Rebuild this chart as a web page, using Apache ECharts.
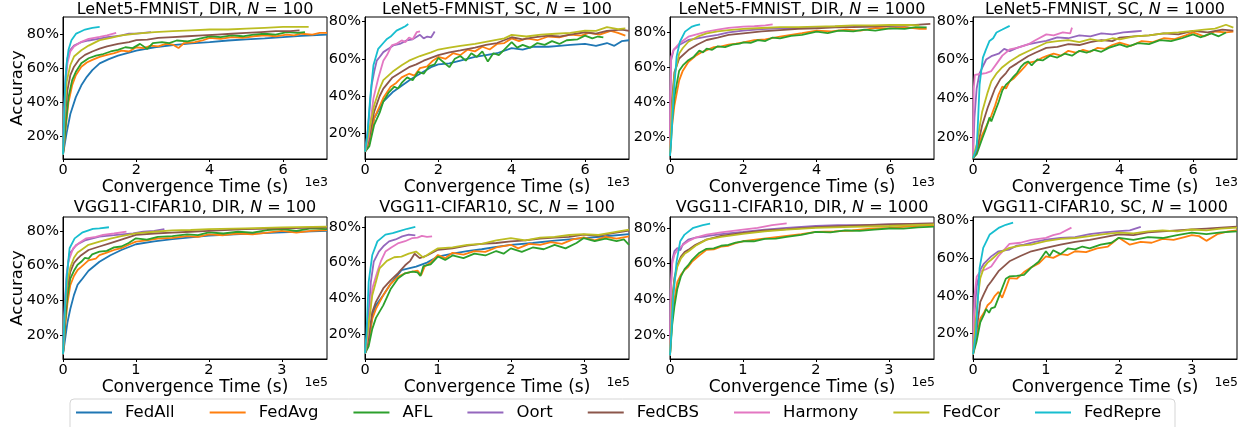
<!DOCTYPE html>
<html>
<head>
<meta charset="utf-8">
<script src="https://cdn.jsdelivr.net/npm/echarts@6/dist/echarts.min.js"></script>
<style>
html,body{margin:0;padding:0;background:#fff;}
#chart{width:1249px;height:427px;}
</style>
</head>
<body>
<div id="chart"></div>
<script>
// ---------- methods / colours ----------
const methods = ['FedAll','FedAvg','AFL','Oort','FedCBS','Harmony','FedCor','FedRepre'];
const colors  = ['#1f77b4','#ff7f0e','#2ca02c','#9467bd','#8c564b','#e377c2','#bcbd22','#17becf'];

// ---------- panel titles / axis ticks ----------
const panelModel = ['LeNet5-FMNIST','LeNet5-FMNIST','LeNet5-FMNIST','LeNet5-FMNIST','VGG11-CIFAR10','VGG11-CIFAR10','VGG11-CIFAR10','VGG11-CIFAR10'];
const panelSplit = ['DIR','SC','DIR','SC','DIR','SC','DIR','SC'];
const panelN     = ['100','100','1000','1000','100','100','1000','1000'];
const xTicksTop = [0,2,4,6];
const xTicksBottom = [0,1,2,3];
const yTicks = [20,40,60,80];
const xMaxTop = 7.2, xMaxBottom = 3.62;
const yMin = [6.4,6.1,7.3,8.5,6.2,5.9,7.0,6.6];
const yMax = [90.4,82.5,88.8,82.0,88.0,85.6,86.0,81.6];

// ---------- data: x in units of 1e3 s (top row) and 1e5 s (bottom row), y in % ----------
const lenet_dir_100 = {
  FedAll:[[0,9],[0.1,22],[0.2,33],[0.35,43],[0.5,50],[0.65,55],[0.8,59],[1,63],[1.25,65.5],[1.5,67.5],[2,70.5],[2.5,72.5],[3,73.8],[3.5,74.8],[4,75.5],[4.5,76.5],[5,77.2],[5.5,77.8],[6,78.5],[6.5,79.2],[7.2,80]],
  FedAvg:[[0,9],[0.08,26],[0.15,40],[0.25,50],[0.35,56],[0.5,61],[0.65,63.5],[0.8,65],[1,66.8],[1.2,68],[1.4,69],[1.6,70.5],[1.8,70],[2,72.5],[2.2,72],[2.4,73.5],[2.6,73],[2.8,74.5],[3,74],[3.15,72],[3.3,75],[3.6,75.5],[3.8,76.5],[4,78],[4.3,77.5],[4.6,78.5],[4.9,78],[5.2,79],[5.5,79.5],[5.8,79],[6.1,80],[6.3,79.5],[6.5,80.5],[6.8,80],[7.0,81],[7.2,81]],
  AFL:[[0,9],[0.08,28],[0.15,43],[0.25,53],[0.35,58],[0.5,63],[0.7,66],[0.9,67.5],[1.1,68.5],[1.3,70],[1.5,71],[1.7,72.5],[1.9,72],[2.1,74.5],[2.3,71.5],[2.45,75],[2.7,75.5],[2.9,75],[3.1,76.5],[3.4,76],[3.7,77.5],[4,79],[4.3,78.5],[4.6,79.5],[4.9,79],[5.2,80],[5.5,80.5],[5.8,80],[6.1,81.5],[6.4,81],[6.6,81.5]],
  Oort:[[0,9],[0.03,35],[0.07,55],[0.12,66],[0.2,71],[0.3,73.5],[0.5,75.5],[0.7,76.5],[1,77.6],[1.2,78.5],[1.4,79],[1.6,79.5],[1.8,80.5],[2,80.6],[2.2,81],[2.4,81.5]],
  FedCBS:[[0,9],[0.06,32],[0.12,47],[0.2,56],[0.3,61],[0.45,65.5],[0.6,68],[0.8,70],[1,71.7],[1.2,73],[1.5,74.5],[1.8,75.5],[2,76.7],[2.3,77],[2.6,78],[3,78.5],[3.4,79],[3.8,79.5],[4.2,80],[4.6,80.5],[5,81],[5.4,81.5],[5.8,82],[6.2,82],[6.45,82.5]],
  Harmony:[[0,9],[0.03,30],[0.07,50],[0.12,63],[0.2,70],[0.3,73],[0.5,75.7],[0.7,77.5],[1,78.6],[1.2,79.5],[1.45,81]],
  FedCor:[[0,9],[0.05,35],[0.1,52],[0.2,62],[0.3,67],[0.5,70.7],[0.7,73.5],[1,76.7],[1.3,78],[1.6,79.5],[2,80.6],[2.5,81.5],[3,82],[3.5,82.5],[4,83],[4.5,83],[5,83.5],[5.5,84],[6,84.5],[6.7,84.5]],
  FedRepre:[[0,9],[0.03,30],[0.06,50],[0.1,63],[0.15,71],[0.23,76.6],[0.36,80.6],[0.5,82],[0.6,83],[0.8,84],[1.0,84.5]]
};
const lenet_sc_100 = {
  FedAll:[[0,10],[0.1,13],[0.25,28],[0.5,37],[0.75,42],[1,45.5],[1.25,49],[1.5,52],[1.8,55.5],[2,57],[2.3,57.5],[2.6,59],[3,61],[3.3,62],[3.6,63],[4,65.8],[4.3,65],[4.6,66.5],[5,66.5],[5.3,67],[5.6,67.5],[6,68],[6.3,67],[6.6,68.5],[6.8,67],[7,69.5],[7.2,70]],
  FedAvg:[[0,10],[0.1,14],[0.25,28],[0.5,39],[0.7,45],[0.85,47],[1,50],[1.2,52],[1.35,51],[1.5,55],[1.7,56],[1.85,59],[2,61],[2.2,60],[2.4,63],[2.6,62],[2.8,65],[3,64],[3.2,66.5],[3.4,65],[3.6,68],[3.8,68.5],[4,71],[4.2,69.5],[4.4,71],[4.7,70],[5,72],[5.3,71.5],[5.6,73],[5.9,72.5],[6.1,74],[6.4,73],[6.7,75],[6.9,74],[7.1,72.5]],
  AFL:[[0,10],[0.12,13],[0.25,24.5],[0.4,31],[0.5,37],[0.65,42],[0.8,45],[0.9,44],[1,47],[1.15,50],[1.3,48.5],[1.45,53],[1.6,52],[1.75,56],[1.9,57],[2,60.5],[2.15,58],[2.3,55.5],[2.45,60],[2.6,61.5],[2.75,59],[2.9,63],[3.05,61],[3.2,64],[3.35,58.5],[3.5,63],[3.65,62],[3.8,65],[4,69],[4.15,66],[4.3,67.5],[4.5,66],[4.7,68.5],[4.9,67.5],[5.1,69.5],[5.3,68],[5.5,70],[5.8,70.5],[6,72.5],[6.2,71],[6.35,72],[6.5,71.5]],
  Oort:[[0,10],[0.08,22],[0.18,45.8],[0.25,53],[0.32,59],[0.4,61],[0.5,63.6],[0.65,65.5],[0.77,67.2],[0.95,68],[1.14,69.9],[1.3,70.5],[1.5,72.9],[1.6,71],[1.7,72],[1.8,71.5],[1.9,74.7]],
  FedCBS:[[0,10],[0.1,16],[0.25,31.6],[0.4,40],[0.5,44],[0.75,50],[1,53],[1.2,55.5],[1.4,57],[1.6,59],[1.8,60.5],[2,62],[2.3,63.5],[2.6,64.5],[3,66],[3.3,67.5],[3.6,68.5],[4,71.6],[4.3,70.5],[4.6,71.5],[5,72.5],[5.3,72],[5.6,73],[6,74.3],[6.3,73.5],[6.6,75],[7,75.7],[7.2,75]],
  Harmony:[[0,10],[0.1,18],[0.23,38.7],[0.36,49.4],[0.5,59],[0.6,62],[0.73,67.2],[0.85,68],[1.0,69.9],[1.1,69],[1.2,71.5],[1.3,70.5],[1.41,74.3],[1.5,74.8]],
  FedCor:[[0,10],[0.1,20],[0.25,35],[0.4,44],[0.5,48.5],[0.75,53],[1,56.5],[1.2,59],[1.5,61.5],[1.8,63.5],[2,65],[2.3,66],[2.6,67],[3,68],[3.4,69.5],[3.8,71],[4,72.9],[4.4,72],[4.8,73],[5.2,73.5],[5.6,74],[6,75.2],[6.3,75],[6.6,77],[6.9,76],[7.1,76.4]],
  FedRepre:[[0,10],[0.07,20],[0.14,38.7],[0.23,56.5],[0.36,65.4],[0.5,68.5],[0.6,70.7],[0.7,72],[0.86,75.2],[1.0,76.5],[1.1,77.5],[1.18,78.7]]
};
const lenet_dir_1000 = {
  FedAvg:[[0,9],[0.05,25],[0.12,38],[0.25,52.4],[0.35,58],[0.5,63],[0.7,66.5],[0.85,68.5],[1,69.8],[1.2,71.5],[1.4,72],[1.6,73],[1.8,73.5],[2,74.2],[2.3,75.5],[2.6,76],[3,77.5],[3.3,78.5],[3.6,79.5],[4,81],[4.4,80.5],[4.8,81.5],[5.2,81],[5.6,82.5],[6,82.3],[6.4,83],[6.8,82],[7,82]],
  AFL:[[0,9],[0.05,28],[0.12,43],[0.25,58],[0.35,61],[0.5,64],[0.65,66],[0.8,69.5],[0.9,68.5],[1,70.7],[1.15,70],[1.3,72],[1.5,71.5],[1.7,73],[1.9,73.5],[2,74.2],[2.2,74],[2.4,75.5],[2.6,75],[2.8,77],[3,76.5],[3.3,78],[3.6,78.5],[4,80.4],[4.3,79.5],[4.6,81],[5,80.5],[5.3,81.5],[5.6,81],[6,82.3],[6.4,82],[6.7,83],[7,82.9]],
  Oort:[[0,9],[0.01,40],[0.03,64],[0.1,70],[0.25,72.7],[0.5,75.6],[0.75,76.5],[1,77.5],[1.3,78.5],[1.6,80],[2,81],[2.5,81.8],[3,82.3],[3.5,82.5],[4,82.9],[4.5,83.2],[5,83.5],[5.5,83.5],[6,83.7],[6.5,84]],
  FedCBS:[[0,9],[0.05,40],[0.12,57],[0.25,65],[0.5,69.8],[0.75,73],[1,75.6],[1.3,77],[1.6,78.5],[2,79.4],[2.5,80.5],[3,81.3],[3.5,82],[4,82.3],[4.5,82.8],[5,83],[5.5,83.3],[6,83.7],[6.5,84],[7.1,84.8]],
  Harmony:[[0,9],[0.01,45],[0.03,66],[0.1,70],[0.25,73.6],[0.5,77.5],[0.75,79],[1,80.4],[1.3,81.5],[1.6,82.5],[2,83.3],[2.3,83.5],[2.6,84],[2.8,84.6]],
  FedCor:[[0,9],[0.05,35],[0.12,55],[0.25,67.8],[0.35,71],[0.5,74.6],[0.75,77.5],[1,79.4],[1.3,80.5],[1.6,81.3],[2,82],[2.5,82.5],[3,83],[3.5,83],[4,83.3],[4.5,83.5],[5,84],[5.5,84],[6,84.2],[6.5,84.2],[6.8,84]],
  FedRepre:[[0,9],[0.04,20],[0.09,40.8],[0.18,66],[0.27,74.6],[0.41,80.4],[0.6,83.3],[0.7,84],[0.82,84.6]]
};
const lenet_sc_1000 = {
  FedAvg:[[0,9],[0.1,12],[0.25,21],[0.4,27],[0.5,31],[0.6,36],[0.7,42],[0.8,46],[0.9,45],[1,48.7],[1.1,50],[1.2,52],[1.3,54],[1.4,56],[1.5,58.3],[1.7,59],[1.9,61],[2,61.7],[2.2,63],[2.4,62],[2.6,64.5],[2.8,63.5],[3,65],[3.2,64],[3.4,66],[3.6,65.5],[3.8,67.5],[4,68.7],[4.3,67],[4.6,69.5],[4.9,69],[5.2,71],[5.5,70.5],[5.8,72.5],[6,74],[6.3,72],[6.6,74.5],[6.9,74],[7.1,74.4]],
  AFL:[[0,9],[0.1,11],[0.25,19],[0.35,24],[0.45,30],[0.5,28],[0.6,33],[0.7,38],[0.8,44],[0.9,47],[1,48.7],[1.1,51],[1.2,53],[1.3,56],[1.4,58],[1.5,59],[1.6,57],[1.75,60],[1.9,59.5],[2.1,62],[2.3,61],[2.5,63],[2.7,62],[2.9,64.5],[3.1,63.5],[3.3,65],[3.5,64],[3.7,66],[4,67.8],[4.2,66.5],[4.5,68.5],[4.8,68],[5.1,70],[5.4,69.5],[5.7,71],[6,73],[6.2,71.5],[6.5,73.5],[6.7,72],[6.9,74]],
  Oort:[[0,9],[0.04,30],[0.1,45],[0.18,53],[0.36,60],[0.5,61.7],[0.7,63],[0.85,65.5],[1,64.3],[1.2,66],[1.5,67.8],[1.8,69],[2,69.6],[2.3,71.5],[2.6,71],[2.9,72.5],[3.2,72],[3.5,73.5],[3.8,73],[4.1,74],[4.4,74.5],[4.6,74.8]],
  FedCBS:[[0,9],[0.1,13],[0.25,26],[0.4,35],[0.5,40],[0.6,45],[0.75,50],[0.9,53],[1,55.6],[1.2,58],[1.5,61.7],[1.7,63.5],[2,66],[2.3,66.5],[2.6,68],[2.9,67.5],[3.2,69],[3.5,70],[3.8,69.5],[4,71.3],[4.4,72],[4.8,72.5],[5.2,73.5],[5.6,73],[6,74.8],[6.4,74],[6.8,75.5],[7.1,75]],
  Harmony:[[0,9],[0.02,45],[0.05,52],[0.2,52.5],[0.35,53],[0.5,54],[0.65,58],[0.8,62],[1,65.2],[1.2,66],[1.5,67.8],[1.7,70],[2,73],[2.2,72.5],[2.45,74],[2.65,73.5],[2.7,76.5]],
  FedCor:[[0,9],[0.1,16],[0.25,33],[0.4,43],[0.5,48.7],[0.65,53],[0.8,56],[1,59],[1.25,62],[1.5,64.3],[1.75,66.5],[2,68.7],[2.3,69.5],[2.6,70],[2.9,69],[3.2,70.5],[3.5,69.5],[3.8,71],[4,70.4],[4.4,72],[4.8,72.5],[5.2,73.5],[5.6,74],[6,74.8],[6.3,75.5],[6.6,76],[6.9,78],[7.1,76.5]],
  FedRepre:[[0,9],[0.1,14],[0.14,29.6],[0.18,47],[0.27,61],[0.35,65],[0.45,69.6],[0.55,71],[0.64,74],[0.8,75.5],[1.0,77.4]]
};
const vgg_dir_100 = {
  FedAll:[[0,9],[0.03,18],[0.06,27],[0.1,35],[0.15,43],[0.2,49],[0.25,51.6],[0.35,57],[0.5,62.2],[0.65,66],[0.8,69],[1,72.3],[1.25,74],[1.5,75.2],[1.75,76.3],[2,77.3],[2.5,78.3],[3,79.2],[3.62,80]],
  FedAvg:[[0,9],[0.03,25],[0.06,38],[0.1,48.7],[0.15,54],[0.2,57.5],[0.25,59.3],[0.35,63],[0.45,64],[0.5,66],[0.6,67.5],[0.7,69],[0.8,70],[0.9,72],[1,73.8],[1.15,74.5],[1.3,75.5],[1.5,76],[1.7,77],[1.85,76.5],[2,78],[2.2,77.5],[2.4,78.5],[2.6,78],[2.8,79],[3,80],[3.2,79],[3.4,80],[3.62,80.5]],
  AFL:[[0,9],[0.03,28],[0.06,42],[0.1,52.5],[0.15,57],[0.2,60.5],[0.25,62.2],[0.3,64.5],[0.35,64],[0.4,66.5],[0.5,68],[0.6,68.5],[0.7,70.5],[0.8,71],[0.9,73],[1,75.7],[1.15,75],[1.3,76.5],[1.5,77],[1.7,78],[1.85,77.5],[2,79.2],[2.2,78.5],[2.4,79.5],[2.6,79],[2.8,80.5],[3,81],[3.2,80],[3.4,81.5],[3.62,81]],
  Oort:[[0,9],[0.02,35],[0.05,55],[0.09,67],[0.13,69],[0.18,71.9],[0.3,74.5],[0.5,76.7],[0.7,77.5],[0.96,78.6],[1.1,79.5],[1.25,80],[1.39,81]],
  FedCBS:[[0,9],[0.03,32],[0.06,47],[0.1,56.4],[0.15,61.5],[0.2,64],[0.25,66],[0.35,69],[0.5,71],[0.65,73],[0.8,75],[1,77.7],[1.25,78.5],[1.5,79],[1.75,79.5],[2,80],[2.5,81],[3,81.5],[3.62,82]],
  Harmony:[[0,9],[0.02,30],[0.04,45],[0.07,62],[0.14,70],[0.22,73],[0.32,75.7],[0.45,76.5],[0.55,77.7],[0.7,78.5],[0.87,79.6]],
  FedCor:[[0,9],[0.03,36],[0.06,51],[0.1,59],[0.15,64.5],[0.2,67.5],[0.25,69],[0.35,72],[0.5,73.8],[0.65,75.5],[0.8,77],[1,78.6],[1.25,79.5],[1.5,80.3],[1.75,80.5],[2,81],[2.5,81.5],[3,82],[3.62,82.5]],
  FedRepre:[[0,9],[0.02,30],[0.05,52.5],[0.09,70],[0.16,75.7],[0.27,79.2],[0.41,81.2],[0.5,81.5],[0.63,82.1]]
};
const vgg_sc_100 = {
  FedAll:[[0,9],[0.05,15],[0.1,30],[0.15,36],[0.25,41.7],[0.35,48],[0.5,55.8],[0.7,57.7],[0.85,60],[1,63.4],[1.2,65],[1.4,66.5],[1.6,67.5],[1.8,68.8],[2,70],[2.3,71],[2.6,72.3],[3,73.8],[3.3,74.8],[3.62,76]],
  FedAvg:[[0,9],[0.05,16],[0.1,28.5],[0.15,34],[0.25,41.7],[0.35,48],[0.45,52],[0.55,54],[0.65,55],[0.72,55.5],[0.77,53],[0.82,58],[0.9,60],[1,64.3],[1.1,62.5],[1.2,65.5],[1.35,64.5],[1.5,66.5],[1.65,66],[1.8,68.5],[2,70],[2.1,68],[2.25,70.5],[2.4,70],[2.55,71.5],[2.7,70.5],[2.85,73],[3,74.2],[3.15,72.5],[3.3,74.5],[3.45,73.5],[3.62,74.7]],
  AFL:[[0,9],[0.05,13],[0.1,22.8],[0.15,29],[0.25,36],[0.35,45],[0.45,51],[0.55,54],[0.65,55],[0.72,54.5],[0.76,52.5],[0.8,58],[0.9,59],[1,63.4],[1.1,61.5],[1.2,64],[1.35,62.5],[1.5,65],[1.65,64],[1.8,66.5],[1.9,65],[2,68],[2.15,66],[2.3,68.5],[2.45,67.5],[2.6,70],[2.75,68],[2.9,71],[3,73.8],[3.15,72],[3.3,73.5],[3.45,72],[3.55,73],[3.62,70]],
  Oort:[[0,9],[0.03,20],[0.08,49],[0.12,60.5],[0.19,66.2],[0.26,69.5],[0.33,71.9],[0.42,73],[0.51,74.7],[0.6,75.7],[0.69,75.3]],
  FedCBS:[[0,9],[0.05,18],[0.1,32.3],[0.15,38],[0.25,45.5],[0.35,50],[0.45,54],[0.55,58.5],[0.62,61],[0.68,65],[0.75,62.5],[0.85,64],[1,67.2],[1.2,68],[1.4,69.5],[1.6,70.5],[1.8,71],[2,71.9],[2.2,72.5],[2.4,73.5],[2.6,74],[2.8,74.5],[3,75.7],[3.2,75],[3.4,76.5],[3.62,78]],
  Harmony:[[0,9],[0.04,20],[0.1,45.5],[0.17,55],[0.22,61],[0.28,66.2],[0.36,68.5],[0.46,71],[0.55,72],[0.65,73.8],[0.72,74],[0.78,75],[0.85,74.5],[0.92,74.7]],
  FedCor:[[0,9],[0.05,25],[0.1,41.7],[0.2,56.8],[0.3,61],[0.4,63],[0.5,63.4],[0.6,65],[0.7,66.2],[0.8,62.8],[0.9,65.5],[1,68],[1.2,68.5],[1.4,70],[1.6,70.5],[1.8,72.5],[2,73.8],[2.2,72.5],[2.4,74],[2.6,74.5],[2.8,75.5],[3,76],[3.2,75.5],[3.4,77],[3.62,78.5]],
  FedRepre:[[0,9],[0.02,20],[0.05,49],[0.1,64.3],[0.17,71.9],[0.28,75.7],[0.38,76.5],[0.46,77.5],[0.58,79],[0.69,80]]
};
const vgg_dir_1000 = {
  FedAvg:[[0,9],[0.03,30],[0.06,40],[0.1,49.8],[0.15,54],[0.2,56.5],[0.25,58.3],[0.3,61],[0.4,64.5],[0.5,67.7],[0.6,68],[0.7,69.5],[0.8,70],[0.9,71.5],[1,72.5],[1.2,73.5],[1.4,74.5],[1.6,75.5],[1.8,76.5],[2,77.7],[2.25,78],[2.5,78.5],[2.75,79.5],[3,80],[3.3,80.8],[3.62,81.5]],
  AFL:[[0,9],[0.03,26],[0.06,36],[0.1,46],[0.15,53],[0.2,57],[0.25,59.2],[0.3,62],[0.4,66],[0.5,68.3],[0.6,68.5],[0.7,70],[0.8,70.5],[0.9,71.8],[1,72.5],[1.15,72.5],[1.3,73.8],[1.45,74],[1.6,75],[1.8,76],[2,77.7],[2.2,77.5],[2.4,78.5],[2.6,78.3],[2.8,79],[3,79.6],[3.2,79.5],[3.4,80.2],[3.62,80.6]],
  Oort:[[0,9],[0.01,45],[0.03,62],[0.06,67],[0.1,68.7],[0.14,67.5],[0.18,71],[0.25,73.4],[0.35,74.5],[0.5,75.3],[0.7,76.5],[1,77.7],[1.3,79],[1.6,80],[2,81],[2.3,81.5],[2.6,81.5],[3,81.9],[3.3,82.2],[3.62,82.3]],
  FedCBS:[[0,9],[0.03,40],[0.06,52],[0.1,59.2],[0.15,64],[0.2,66.5],[0.25,67.7],[0.35,70.5],[0.5,73.4],[0.7,75.5],[1,77.2],[1.3,78.5],[1.6,79.3],[2,80.4],[2.5,81.2],[3,81.9],[3.62,82.5]],
  Harmony:[[0,9],[0.01,45],[0.03,60],[0.06,65],[0.1,67.7],[0.18,70.5],[0.25,72.5],[0.35,74.5],[0.5,76.2],[0.7,77.5],[1,79],[1.2,80],[1.4,81.5],[1.6,82.5]],
  FedCor:[[0,9],[0.03,38],[0.06,50],[0.1,58.3],[0.15,63],[0.2,65.5],[0.25,66.8],[0.35,70],[0.5,73.4],[0.7,75],[1,76.6],[1.3,78],[1.6,79],[2,80],[2.5,80.5],[3,81],[3.62,81.9]],
  FedRepre:[[0,9],[0.02,22],[0.045,42],[0.09,61],[0.14,72.5],[0.2,76.2],[0.32,80],[0.45,81.5],[0.55,82.3]]
};
const vgg_sc_1000 = {
  FedAvg:[[0,9],[0.05,18],[0.1,28],[0.15,31],[0.2,35],[0.25,36.8],[0.3,40],[0.35,42],[0.4,39],[0.45,44],[0.5,49.3],[0.6,49],[0.7,52.5],[0.8,55],[0.9,57],[1,60.8],[1.1,60],[1.2,62],[1.3,61.5],[1.4,63.5],[1.55,63],[1.7,65],[1.85,66],[2,70.6],[2.15,67],[2.3,68.5],[2.45,68],[2.6,70],[2.75,69.5],[2.9,71],[3,72],[3.1,71.5],[3.2,69],[3.35,72.5],[3.5,74],[3.62,74.5]],
  AFL:[[0,9],[0.05,16],[0.1,26],[0.15,30],[0.18,33],[0.22,31],[0.25,33.3],[0.3,34],[0.35,39],[0.4,44],[0.45,49],[0.5,50.2],[0.6,50.5],[0.7,51],[0.8,55],[0.9,58],[1,63.5],[1.05,61],[1.1,64],[1.2,62],[1.3,65],[1.4,64.5],[1.5,66],[1.6,65],[1.75,67],[1.9,68],[2,70.6],[2.2,69.5],[2.4,71],[2.6,70.5],[2.8,72],[3,73.3],[3.2,72.5],[3.4,73.5],[3.62,74]],
  Oort:[[0,9],[0.02,30],[0.05,45],[0.1,53.7],[0.15,57],[0.25,60.8],[0.35,63.5],[0.5,64.4],[0.6,66.5],[0.7,67],[0.85,68.5],[1,69.7],[1.2,70.5],[1.4,71],[1.6,72.5],[1.8,73.5],[2,74.1],[2.15,74.5],[2.3,76.4]],
  FedCBS:[[0,9],[0.05,22],[0.1,36.8],[0.15,41],[0.2,45],[0.25,47.5],[0.35,53],[0.5,58.2],[0.65,61],[0.8,63.5],[1,65.3],[1.2,67],[1.4,68.5],[1.6,69.5],[1.8,71],[2,72.4],[2.2,72],[2.4,73.5],[2.6,74],[2.8,74.5],[3,75],[3.2,75.5],[3.4,76],[3.62,76.5]],
  Harmony:[[0,9],[0.02,40],[0.05,50],[0.1,52.8],[0.18,54],[0.25,55.5],[0.35,61],[0.5,67.4],[0.65,68],[0.8,69.5],[1,70.6],[1.1,72],[1.2,73],[1.35,76]],
  FedCor:[[0,9],[0.04,28],[0.07,40],[0.1,49.3],[0.15,55],[0.2,57.5],[0.25,59],[0.35,62.5],[0.5,65.3],[0.65,66.5],[0.8,67],[1,68.8],[1.2,70],[1.4,70.5],[1.6,71.5],[1.8,72.5],[2,73.3],[2.2,73],[2.4,74],[2.6,74.5],[2.8,74],[3,75],[3.2,74.5],[3.4,75.5],[3.62,76]],
  FedRepre:[[0,9],[0.04,20],[0.07,40.4],[0.09,54.6],[0.14,65.3],[0.23,72.4],[0.36,76],[0.45,77.5],[0.55,78.6]]
};
const panelData = [lenet_dir_100, lenet_sc_100, lenet_dir_1000, lenet_sc_1000, vgg_dir_100, vgg_sc_100, vgg_dir_1000, vgg_sc_1000];

// ---------- layout ----------
const FONT = 'DejaVu Sans';
const colLeft = [63, 365, 670, 973];
const rowTop = [17, 217];
const titleTop = [2, 200];
const GW = 264, GH = 142;

const grids = [], xAxes = [], yAxes = [], series = [], titles = [], graphics = [];
for (let i = 0; i < 8; i++) {
  const c = i % 4, r = Math.floor(i / 4);
  const left = colLeft[c], top = rowTop[r];
  grids.push({left: left, top: top, width: GW, height: GH, show: true, borderColor: '#000', borderWidth: 1, backgroundColor: '#fff'});
  const xt = r === 0 ? xTicksTop : xTicksBottom;
  xAxes.push({
    gridIndex: i, type: 'value', min: 0, max: r === 0 ? xMaxTop : xMaxBottom,
    axisLine: {show: true, onZero: false, lineStyle: {color: '#000', width: 1}},
    axisTick: {show: true, inside: false, length: 3, lineStyle: {color: '#000'}, customValues: xt},
    axisLabel: {customValues: xt, fontSize: 14.5, color: '#000', margin: 4, fontFamily: FONT},
    splitLine: {show: false},
    name: 'Convergence Time (s)', nameLocation: 'middle', nameGap: 17,
    nameTextStyle: {fontSize: 17, color: '#000', fontFamily: FONT}
  });
  yAxes.push({
    gridIndex: i, type: 'value', min: yMin[i], max: yMax[i],
    axisLine: {show: true, onZero: false, lineStyle: {color: '#000', width: 1}},
    axisTick: {show: true, inside: false, length: 3, lineStyle: {color: '#000'}, customValues: yTicks},
    axisLabel: {customValues: yTicks, formatter: '{value}%', fontSize: 14.5, color: '#000', margin: 4, fontFamily: FONT},
    splitLine: {show: false}
  });
  titles.push({
    text: '{a|' + panelModel[i] + ', ' + panelSplit[i] + ', }{i|N}{a| = ' + panelN[i] + '}',
    left: left + GW / 2, top: titleTop[r], textAlign: 'center', padding: 0,
    textStyle: {
      fontSize: 16, fontWeight: 'normal', color: '#000', fontFamily: FONT,
      rich: {
        a: {fontSize: 16, color: '#000', fontFamily: FONT},
        i: {fontSize: 16, color: '#000', fontFamily: FONT, fontStyle: 'italic'}
      }
    }
  });
  graphics.push({
    type: 'text', x: left + GW + 1, y: top + GH + 24, z: 10,
    style: {text: r === 0 ? '1e3' : '1e5', fontSize: 12.5, fill: '#000', fontFamily: FONT, align: 'right', verticalAlign: 'middle'}
  });
  const d = panelData[i];
  methods.forEach((m, k) => {
    if (!d[m]) return;
    series.push({
      type: 'line', name: m, xAxisIndex: i, yAxisIndex: i, data: d[m],
      symbol: 'none', showSymbol: false, smooth: false, clip: true,
      lineStyle: {width: 1.8, color: colors[k]}, itemStyle: {color: colors[k]},
      emphasis: {disabled: true}, animation: false
    });
  });
}
// y labels "Accuracy"
[0, 1].forEach(r => {
  graphics.push({
    type: 'text', x: 18, y: rowTop[r] + GH / 2, rotation: Math.PI / 2, z: 10,
    style: {text: 'Accuracy', fontSize: 16.5, fill: '#000', fontFamily: FONT, align: 'center', verticalAlign: 'middle'}
  });
});
// legend frame
graphics.push({
  type: 'rect', shape: {x: 70, y: 399, width: 1105, height: 40, r: 4}, z: 0,
  style: {fill: 'rgba(255,255,255,0.8)', stroke: '#d5d5d5', lineWidth: 1}
});

const chart = echarts.init(document.getElementById('chart'), null, {renderer: 'canvas'});
chart.setOption({
  backgroundColor: '#fff',
  animation: false,
  title: titles,
  grid: grids,
  xAxis: xAxes,
  yAxis: yAxes,
  legend: {
    data: methods, left: 76, top: 404, padding: 0, itemGap: 35,
    icon: 'rect', itemWidth: 36, itemHeight: 2,
    textStyle: {fontSize: 16.5, color: '#000', fontFamily: FONT, padding: [0, 0, 0, 8]},
    z: 5
  },
  graphic: graphics,
  series: series
});
</script>
</body>
</html>
